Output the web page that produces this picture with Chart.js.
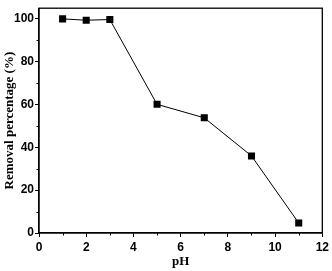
<!DOCTYPE html>
<html>
<head>
<meta charset="utf-8">
<script src="https://cdn.jsdelivr.net/npm/chart.js@4"></script>
<style>
  html, body { margin: 0; padding: 0; background: #fff; }
  #wrap { width: 332px; height: 271px; }
</style>
</head>
<body>
<div id="wrap"><canvas id="phChart"></canvas></div>
<script>
const phValues = [1, 2, 3, 5, 7, 9, 11];
const removal = [100, 99.4, 99.7, 60.1, 53.8, 36, 4.7];
const xTicks = [0, 2, 4, 6, 8, 10, 12];
const yTicks = [0, 20, 40, 60, 80, 100];
const xMinor = [1, 3, 5, 7, 9, 11];
const yMinor = [10, 30, 50, 70, 90];

const tickFont = { family: 'Liberation Sans', size: 12, weight: 'bold' };
const titleFont = { family: 'Liberation Serif', size: 13, weight: 'bold' };

// frame around the plot + short minor ticks
const frame = {
    id: 'frame',
    afterDraw(chart) {
        const { ctx, chartArea: a, scales } = chart;
        ctx.save();
        ctx.strokeStyle = '#000';
        ctx.lineWidth = 1.3;
        ctx.strokeRect(a.left, a.top, a.right - a.left, a.bottom - a.top);
        ctx.lineWidth = 1;
        ctx.beginPath();
        xMinor.forEach(v => {
            const px = Math.round(scales.x.getPixelForValue(v)) + 0.5;
            ctx.moveTo(px, a.bottom);
            ctx.lineTo(px, a.bottom + 2.5);
        });
        yMinor.forEach(v => {
            const py = Math.round(scales.y.getPixelForValue(v)) + 0.5;
            ctx.moveTo(a.left, py);
            ctx.lineTo(a.left - 2.5, py);
        });
        ctx.stroke();
        ctx.restore();
    }
};

const ctx = document.getElementById('phChart').getContext('2d');
const phChart = new Chart(ctx, {
    type: 'line',
    data: {
        datasets: [{
            data: phValues.map((x, i) => ({ x: x, y: removal[i] })),
            borderColor: '#000',
            backgroundColor: '#000',
            borderWidth: 1,
            pointStyle: 'rect',
            pointRadius: 5,
            pointBorderWidth: 0,
            tension: 0
        }]
    },
    options: {
        responsive: true,
        maintainAspectRatio: false,
        animation: false,
        layout: { padding: { left: 0, right: 9, top: 2, bottom: 0 } },
        plugins: { legend: { display: false }, tooltip: { enabled: false } },
        scales: {
            x: {
                type: 'linear',
                min: 0,
                max: 12,
                afterBuildTicks: s => { s.ticks = xTicks.map(v => ({ value: v })); },
                afterFit: s => { s.height = 38; },
                grid: { drawOnChartArea: false, tickLength: 4, color: '#000', tickColor: '#000' },
                border: { color: '#000', width: 1.3 },
                ticks: { color: '#000', font: tickFont, padding: 3, maxRotation: 0 },
                title: { display: true, text: 'pH', color: '#000', font: titleFont, padding: { top: 0, bottom: 2 } }
            },
            y: {
                min: 0,
                max: 105,
                afterBuildTicks: s => { s.ticks = yTicks.map(v => ({ value: v })); },
                afterFit: s => { s.width = 39; },
                grid: { drawOnChartArea: false, tickLength: 4, color: '#000', tickColor: '#000' },
                border: { color: '#000', width: 1.3 },
                ticks: { color: '#000', font: tickFont, padding: 1 },
                title: { display: true, text: 'Removal percentage (%)', color: '#000', font: titleFont, padding: { top: 2, bottom: 0 } }
            }
        }
    },
    plugins: [frame]
});
</script>
</body>
</html>
